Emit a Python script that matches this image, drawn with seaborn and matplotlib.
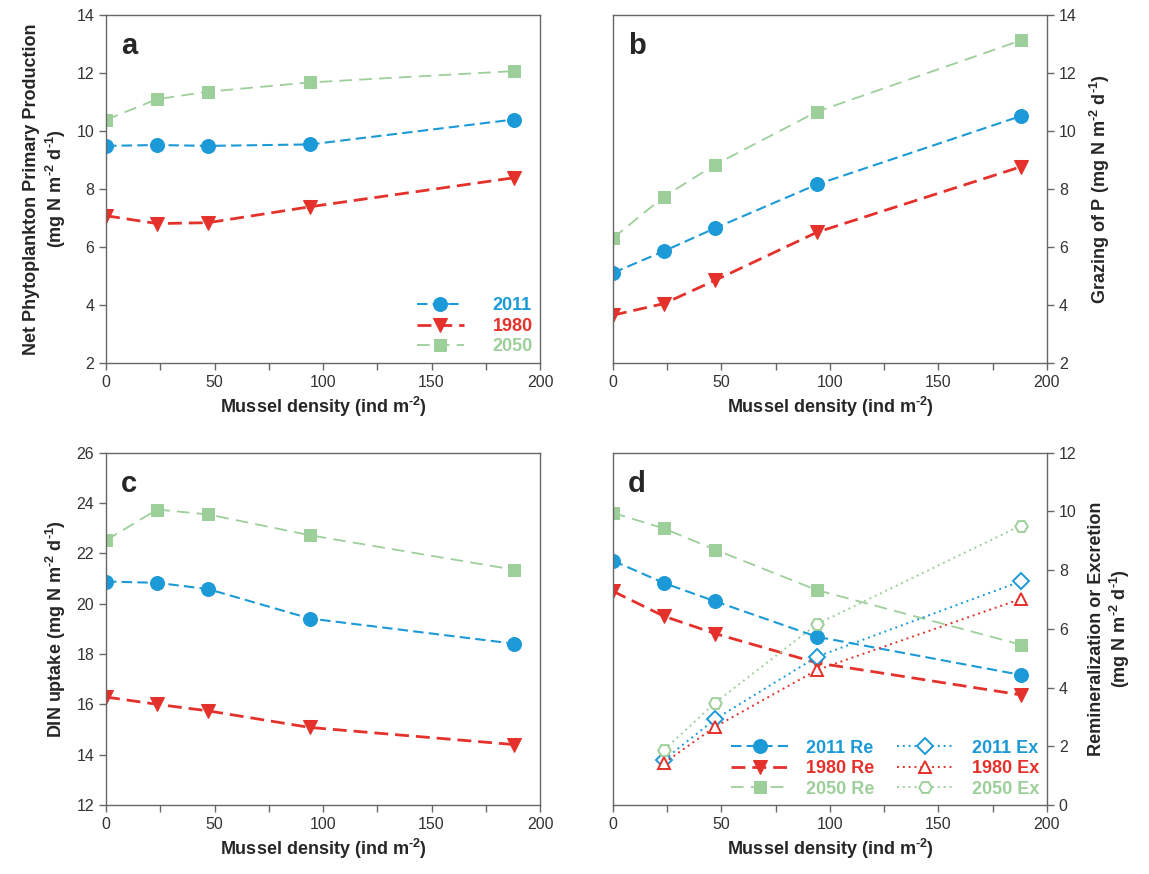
import matplotlib
matplotlib.use("Agg")
import matplotlib.pyplot as plt
from matplotlib.ticker import MultipleLocator
import numpy as np
import pandas as pd
import seaborn as sns


DENSITY = [0, 23.5, 47, 94, 188]
DENSITY_EX = [23.5, 47, 94, 188]

NPP_2011 = [9.48, 9.51, 9.48, 9.53, 10.39]
NPP_1980 = [7.07, 6.80, 6.83, 7.38, 8.38]
NPP_2050 = [10.38, 11.09, 11.35, 11.67, 12.06]

GRAZ_2011 = [5.10, 5.85, 6.64, 8.15, 10.51]
GRAZ_1980 = [3.64, 4.04, 4.84, 6.50, 8.76]
GRAZ_2050 = [6.30, 7.73, 8.83, 10.66, 13.12]

DIN_2011 = [20.88, 20.83, 20.58, 19.41, 18.41]
DIN_1980 = [16.29, 16.00, 15.74, 15.08, 14.40]
DIN_2050 = [22.52, 23.74, 23.55, 22.72, 21.35]

RE_2011 = [8.32, 7.56, 6.94, 5.73, 4.43]
RE_1980 = [7.28, 6.43, 5.84, 4.84, 3.75]
RE_2050 = [9.95, 9.42, 8.70, 7.32, 5.46]
EX_2011 = [1.54, 2.92, 5.05, 7.62]
EX_1980 = [1.43, 2.66, 4.60, 7.02]
EX_2050 = [1.87, 3.48, 6.16, 9.52]

BLUE = "#1b9ad7"
RED = "#e5312b"
GREEN = "#9dcf9b"

STYLE = {
    "2011": dict(color=BLUE, marker="o", markersize=10, lw=1.5, dashes=(5, 2.5)),
    "1980": dict(color=RED, marker="v", markersize=10, lw=2.0, dashes=(5, 2.5)),
    "2050": dict(color=GREEN, marker="s", markersize=8.5, lw=1.3, dashes=(7, 4)),
}

XLABEL = "Mussel density (ind m$^{\\mathbf{\u20102}}$)"
UNIT = "(mg N m$^{\\mathbf{\u20102}}$ d$^{\\mathbf{\u20101}}$)"


def draw_series(ax, x, y, key, fill=True, dotted=False, marker=None, label=None):
    st = STYLE[key]
    df = pd.DataFrame({"x": x, "y": y})
    kw = dict(color=st["color"], marker=marker or st["marker"],
              markersize=st["markersize"], markeredgecolor=st["color"],
              linewidth=st["lw"], label=label)
    if not fill:
        kw["markerfacecolor"] = "white"
        kw["markeredgewidth"] = 1.4
        kw["markersize"] = 9
    sns.lineplot(data=df, x="x", y="y", ax=ax, estimator=None, sort=False, **kw)
    line = ax.lines[-1]
    if dotted:
        line.set_linestyle((0, (1, 2)))
        line.set_linewidth(1.4)
    else:
        line.set_dashes(st["dashes"])
    return line


def style_axes(ax, ylim, ystep, right=False, letter=""):
    ax.set_xlim(0, 200)
    ax.set_ylim(*ylim)
    ax.xaxis.set_major_locator(MultipleLocator(50))
    ax.xaxis.set_minor_locator(MultipleLocator(25))
    ax.yaxis.set_major_locator(MultipleLocator(ystep))
    for s in ax.spines.values():
        s.set_color("#666666")
        s.set_linewidth(1.0)
    ax.tick_params(axis="both", which="both", direction="out", color="#666666",
                   labelsize=11.5, labelcolor="#333333", length=5, width=1,
                   bottom=True, top=False)
    ax.tick_params(axis="x", which="minor", length=5, bottom=True)
    if right:
        ax.yaxis.tick_right()
        ax.yaxis.set_label_position("right")
        ax.tick_params(axis="y", right=True, left=False)
    else:
        ax.tick_params(axis="y", left=True, right=False)
    ax.set_xlabel(XLABEL, fontsize=13, fontweight="bold", labelpad=4)
    ax.text(0.035, 0.95, letter, transform=ax.transAxes, fontsize=21,
            fontweight="bold", va="top", ha="left")
    ax.grid(False)


def colored_legend(ax, handles, labels, ncol, colspacing, textpad, hlen):
    leg = ax.legend(handles, labels, loc="lower right", bbox_to_anchor=(1.0, 0.0),
                    ncol=ncol, frameon=False, fontsize=13, handlelength=hlen,
                    handletextpad=textpad, labelspacing=0.2,
                    columnspacing=colspacing, borderaxespad=0.0)
    for txt, h in zip(leg.get_texts(), handles):
        txt.set_color(h.get_color())
        txt.set_fontweight("bold")
    return leg


def main():
    sns.set_theme(style="white")
    plt.rcParams["font.family"] = ["Liberation Sans", "DejaVu Sans"]
    plt.rcParams["mathtext.fontset"] = "custom"
    plt.rcParams["mathtext.rm"] = "Liberation Sans"
    plt.rcParams["mathtext.bf"] = "Liberation Sans:bold"

    fig = plt.figure(figsize=(11.49, 8.74), dpi=100)
    ax_a = fig.add_axes([0.0923, 0.585, 0.3777, 0.398])
    ax_b = fig.add_axes([0.5335, 0.585, 0.3777, 0.398])
    ax_c = fig.add_axes([0.0923, 0.079, 0.3777, 0.403])
    ax_d = fig.add_axes([0.5335, 0.079, 0.3777, 0.403])

    # a
    h = [draw_series(ax_a, DENSITY, NPP_2011, "2011", label="2011"),
         draw_series(ax_a, DENSITY, NPP_1980, "1980", label="1980"),
         draw_series(ax_a, DENSITY, NPP_2050, "2050", label="2050")]
    style_axes(ax_a, (2, 14), 2, letter="a")
    ax_a.set_ylabel("Net Phytoplankton Primary Production\n" + UNIT,
                    fontsize=13, fontweight="bold", labelpad=6)
    colored_legend(ax_a, h, ["2011", "1980", "2050"], 1, 1.0, 1.6, 2.6)

    # b
    draw_series(ax_b, DENSITY, GRAZ_2011, "2011")
    draw_series(ax_b, DENSITY, GRAZ_1980, "1980")
    draw_series(ax_b, DENSITY, GRAZ_2050, "2050")
    style_axes(ax_b, (2, 14), 2, right=True, letter="b")
    ax_b.set_ylabel("Grazing of P " + UNIT, fontsize=13, fontweight="bold",
                    rotation=90, labelpad=8)

    # c
    draw_series(ax_c, DENSITY, DIN_2011, "2011")
    draw_series(ax_c, DENSITY, DIN_1980, "1980")
    draw_series(ax_c, DENSITY, DIN_2050, "2050")
    style_axes(ax_c, (12, 26), 2, letter="c")
    ax_c.set_ylabel("DIN uptake " + UNIT, fontsize=13, fontweight="bold",
                    labelpad=6)

    # d
    re = [draw_series(ax_d, DENSITY, RE_2011, "2011", label="2011 Re"),
          draw_series(ax_d, DENSITY, RE_1980, "1980", label="1980 Re"),
          draw_series(ax_d, DENSITY, RE_2050, "2050", label="2050 Re")]
    ex = [draw_series(ax_d, DENSITY_EX, EX_2011, "2011", fill=False, dotted=True,
                      marker="D", label="2011 Ex"),
          draw_series(ax_d, DENSITY_EX, EX_1980, "1980", fill=False, dotted=True,
                      marker="^", label="1980 Ex"),
          draw_series(ax_d, DENSITY_EX, EX_2050, "2050", fill=False, dotted=True,
                      marker="H", label="2050 Ex")]
    ex[0].set_markersize(8)
    style_axes(ax_d, (0, 12), 2, right=True, letter="d")
    ax_d.set_ylabel("Remineralization or Excretion\n" + UNIT, fontsize=13,
                    fontweight="bold", rotation=90, labelpad=8)
    colored_legend(ax_d, re + ex, ["2011 Re", "1980 Re", "2050 Re",
                                   "2011 Ex", "1980 Ex", "2050 Ex"], 2, 1.2, 1.0, 3.2)

    fig.savefig("out.png", dpi=100)


if __name__ == "__main__":
    main()
